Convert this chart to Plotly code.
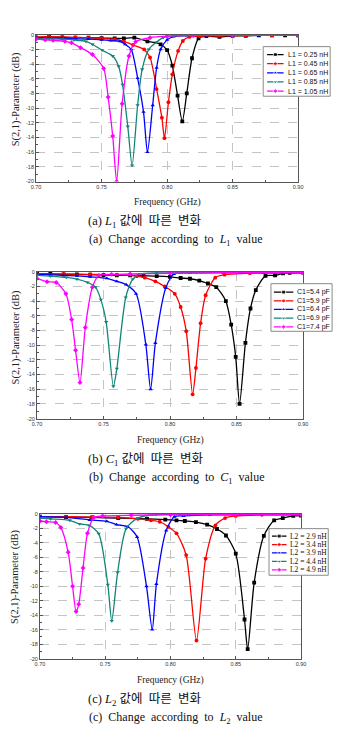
import plotly.graph_objects as go

W, H = 341, 732

def px(x):
    return x / W

def py(y):
    return 1 - y / H

# ---------------- DATA ----------------
# Panel (a): L1 sweep
a_names = ["L1 = 0.25 nH", "L1 = 0.45 nH", "L1 = 0.65 nH", "L1 = 0.85 nH", "L1 = 1.05 nH"]
a_f1 = [0.700, 0.710, 0.720, 0.730, 0.740, 0.750, 0.760, 0.767, 0.775, 0.785, 0.795, 0.800, 0.804, 0.808, 0.8116, 0.815, 0.819, 0.824, 0.830, 0.840, 0.850, 0.860, 0.870, 0.880, 0.890, 0.900]
a_s1 = [-0.4, -0.3, -0.35, -0.4, -0.4, -0.45, -0.5, -0.5, -0.4, -0.9, -1.3, -2.1, -4.2, -8.3, -11.8, -8.0, -3.2, -0.5, -0.2, -0.3, -0.15, -0.15, -0.1, -0.1, -0.1, -0.1]
a_f2 = [0.700, 0.710, 0.720, 0.730, 0.740, 0.750, 0.760, 0.767, 0.774, 0.7825, 0.787, 0.792, 0.796, 0.798, 0.801, 0.804, 0.8084, 0.812, 0.817, 0.825, 0.840, 0.860, 0.880, 0.900]
a_s2 = [-0.3, -0.25, -0.3, -0.35, -0.4, -0.5, -0.6, -0.9, -1.4, -2.0, -3.1, -7.4, -11.3, -14.1, -9.2, -5.4, -2.2, -0.85, -0.3, -0.2, -0.15, -0.1, -0.1, -0.1]
a_f3 = [0.700, 0.710, 0.720, 0.730, 0.740, 0.750, 0.757, 0.764, 0.768, 0.7726, 0.7775, 0.782, 0.785, 0.789, 0.792, 0.795, 0.800, 0.805, 0.815, 0.830, 0.850, 0.870, 0.900]
a_s3 = [-0.4, -0.45, -0.5, -0.55, -0.6, -0.7, -0.8, -0.9, -1.3, -2.0, -5.9, -10.5, -16.0, -9.6, -4.5, -2.0, -0.7, -0.25, -0.1, -0.1, -0.1, -0.1, -0.1]
a_f4 = [0.700, 0.710, 0.720, 0.729, 0.738, 0.743, 0.7504, 0.7585, 0.763, 0.766, 0.770, 0.7733, 0.7775, 0.781, 0.786, 0.792, 0.797, 0.805, 0.820, 0.850, 0.900]
a_s4 = [-0.5, -0.55, -0.6, -0.7, -0.9, -1.3, -2.1, -2.9, -4.3, -6.8, -12.5, -17.8, -9.6, -4.7, -2.0, -1.0, -0.4, -0.15, -0.1, -0.1, -0.1]
a_f5 = [0.700, 0.707, 0.713, 0.722, 0.727, 0.734, 0.743, 0.7516, 0.755, 0.7585, 0.7615, 0.7657, 0.7709, 0.776, 0.787, 0.800, 0.820, 0.850, 0.900]
a_s5 = [-0.6, -0.7, -0.77, -0.9, -1.1, -1.76, -2.7, -4.6, -8.5, -13.8, -20.0, -9.4, -2.9, -0.95, -0.4, -0.2, -0.1, -0.1, -0.1]

# Panel (b): C1 sweep
b_names = ["C1=5.4 pF", "C1=5.9 pF", "C1=6.4 pF", "C1=6.9 pF", "C1=7.4 pF"]
b_f1 = [0.700, 0.710, 0.720, 0.730, 0.740, 0.750, 0.760, 0.770, 0.780, 0.790, 0.800, 0.808, 0.815, 0.822, 0.8285, 0.8348, 0.842, 0.846, 0.8494, 0.8523, 0.8567, 0.8605, 0.8645, 0.8718, 0.879, 0.885, 0.890, 0.900]
b_s1 = [-0.3, -0.3, -0.35, -0.35, -0.4, -0.45, -0.5, -0.5, -0.55, -0.6, -0.7, -0.85, -0.95, -1.2, -1.6, -2.1, -4.0, -7.2, -11.6, -18.0, -9.7, -5.0, -2.5, -0.55, -0.5, -0.2, -0.15, -0.1]
b_f2 = [0.700, 0.720, 0.740, 0.760, 0.775, 0.781, 0.789, 0.796, 0.8036, 0.808, 0.8122, 0.817, 0.8195, 0.823, 0.8268, 0.834, 0.841, 0.860, 0.900]
b_s2 = [-0.3, -0.3, -0.35, -0.4, -0.6, -0.8, -1.3, -2.0, -3.0, -4.8, -8.1, -16.7, -13.1, -7.0, -3.2, -0.8, -0.4, -0.2, -0.1]
b_f3 = [0.700, 0.710, 0.720, 0.730, 0.740, 0.7525, 0.760, 0.767, 0.7745, 0.7818, 0.7854, 0.789, 0.7968, 0.803, 0.815, 0.840, 0.870, 0.900]
b_s3 = [-0.4, -0.4, -0.5, -0.55, -0.7, -0.9, -1.3, -1.75, -3.0, -9.9, -16.0, -9.7, -2.2, -0.3, -0.15, -0.1, -0.1, -0.1]
b_f4 = [0.700, 0.710, 0.722, 0.730, 0.738, 0.744, 0.748, 0.752, 0.7574, 0.760, 0.7667, 0.772, 0.777, 0.790, 0.820, 0.860, 0.900]
b_s4 = [-0.5, -0.6, -0.76, -1.0, -1.45, -2.1, -3.8, -6.85, -15.6, -13.2, -3.5, -1.0, -0.3, -0.15, -0.1, -0.1, -0.1]
b_f5 = [0.700, 0.7075, 0.7144, 0.7217, 0.726, 0.729, 0.7323, 0.7363, 0.7416, 0.7465, 0.756, 0.770, 0.800, 0.850, 0.900]
b_s5 = [-0.9, -1.35, -1.45, -3.0, -6.5, -10.7, -15.1, -7.6, -2.1, -0.5, -0.35, -0.3, -0.2, -0.1, -0.1]

# Panel (c): L2 sweep
c_names = ["L2 = 2.9 nH", "L2 = 3.4 nH", "L2 = 3.9 nH", "L2 = 4.4 nH", "L2 = 4.9 nH"]
c_f1 = [0.700, 0.720, 0.740, 0.760, 0.782, 0.796, 0.8046, 0.811, 0.8195, 0.8281, 0.8356, 0.8425, 0.850, 0.8567, 0.8591, 0.8641, 0.8715, 0.8794, 0.886, 0.894, 0.900]
c_s1 = [-0.4, -0.45, -0.5, -0.6, -0.7, -0.8, -0.9, -1.0, -1.15, -1.5, -2.1, -3.0, -5.5, -14.6, -18.7, -9.5, -3.05, -0.9, -0.6, -0.3, -0.25]
c_f2 = [0.700, 0.720, 0.740, 0.760, 0.775, 0.785, 0.7918, 0.7984, 0.8046, 0.812, 0.8199, 0.8269, 0.8344, 0.8418, 0.850, 0.870, 0.900]
c_s2 = [-0.4, -0.4, -0.45, -0.5, -0.7, -0.9, -1.1, -1.8, -2.7, -5.7, -17.5, -6.2, -1.6, -0.6, -0.3, -0.15, -0.1]
c_f3 = [0.700, 0.720, 0.738, 0.7513, 0.7587, 0.7674, 0.7744, 0.7816, 0.786, 0.7892, 0.7967, 0.803, 0.810, 0.830, 0.860, 0.900]
c_s3 = [-0.4, -0.5, -0.85, -1.05, -1.5, -1.8, -3.2, -10.0, -16.0, -9.7, -2.3, -0.4, -0.3, -0.15, -0.1, -0.1]
c_f4 = [0.700, 0.708, 0.7228, 0.7303, 0.7377, 0.745, 0.752, 0.755, 0.7595, 0.766, 0.7749, 0.789, 0.810, 0.850, 0.900]
c_s4 = [-0.6, -0.7, -0.9, -1.4, -1.6, -2.75, -9.8, -14.8, -8.1, -2.05, -0.6, -0.1, -0.1, -0.1, -0.1]
c_f5 = [0.700, 0.705, 0.712, 0.716, 0.7216, 0.725, 0.7277, 0.7297, 0.733, 0.7364, 0.7414, 0.748, 0.770, 0.800, 0.850, 0.900]
c_s5 = [-1.0, -1.1, -1.2, -1.9, -5.3, -10.0, -13.5, -12.5, -7.5, -2.7, -0.5, -0.3, -0.2, -0.15, -0.1, -0.1]

x_ticks = [0.70, 0.75, 0.80, 0.85, 0.90]
x_ticktext = ["0.70", "0.75", "0.80", "0.85", "0.90"]
y_ticks = [0, -2, -4, -6, -8, -10, -12, -14, -16, -18, -20]
y_ticktext = ["0", "-2", "-4", "-6", "-8", "-10", "-12", "-14", "-16", "-18", "-20"]

x_title = "Frequency (GHz)"
y_title = "S(2,1)-Parameter (dB)"
captions_kr = [
    "(a) <i>L</i><sub>1</sub> 값에\u00a0\u00a0따른\u00a0\u00a0변화",
    "(b) <i>C</i><sub>1</sub> 값에\u00a0\u00a0따른\u00a0\u00a0변화",
    "(c) <i>L</i><sub>2</sub> 값에\u00a0\u00a0따른\u00a0\u00a0변화",
]
captions_en = [
    "(a)\u00a0\u00a0Change\u00a0\u00a0according\u00a0\u00a0to\u00a0\u00a0<i>L</i><sub>1</sub>\u00a0\u00a0value",
    "(b)\u00a0\u00a0Change\u00a0\u00a0according\u00a0\u00a0to\u00a0\u00a0<i>C</i><sub>1</sub>\u00a0\u00a0value",
    "(c)\u00a0\u00a0Change\u00a0\u00a0according\u00a0\u00a0to\u00a0\u00a0<i>L</i><sub>2</sub>\u00a0\u00a0value",
]

# ---------------- STYLE / LAYOUT ----------------
colors = ["#000000", "#ff0000", "#0000ff", "#11857a", "#ff00ff"]
symbols = ["square", "circle", "triangle-up", "triangle-down", "diamond"]

panel_data = [
    (a_names, [(a_f1, a_s1), (a_f2, a_s2), (a_f3, a_s3), (a_f4, a_s4), (a_f5, a_s5)]),
    (b_names, [(b_f1, b_s1), (b_f2, b_s2), (b_f3, b_s3), (b_f4, b_s4), (b_f5, b_s5)]),
    (c_names, [(c_f1, c_s1), (c_f2, c_s2), (c_f3, c_s3), (c_f4, c_s4), (c_f5, c_s5)]),
]

# plot boxes in pixels: x0, x1, ytop, ybottom
boxes = [(32, 302, 32, 180), (33, 307, 271, 419), (36, 305, 515, 661)]
# legend boxes: x0, x1, ytop, ybottom, rows y, line x0, line x1, text x, font
leg_boxes = [
    (266, 335, 44, 94, [52, 61.2, 70.4, 79.6, 88.8], 270, 287, 289, "Liberation Sans", 7),
    (274, 337, 283, 331, [291.5, 300.3, 309, 317.8, 326.5], 277, 297, 298.5, "Liberation Sans", 7),
    (272, 333, 530, 577, [537.5, 546, 554.5, 563, 571.5], 275, 290, 292, "Liberation Serif", 7.5),
]
xtitle_y = [201, 441, 683]
ytitle_pos = [(11.5, 97), (11.5, 337), (11, 579)]
cap_kr_y = [221, 461, 702.5]
cap_en_y = [239, 479, 721]

fig = go.Figure()
layout = dict(
    width=W, height=H, autosize=False,
    margin=dict(l=0, r=0, t=0, b=0),
    paper_bgcolor="white", plot_bgcolor="white",
    showlegend=False,
    font=dict(family="Liberation Sans", color="#222"),
)
annotations = []
shapes = []

axis_color = "#555555"
for i, ((names, series), (bx0, bx1, by0, by1)) in enumerate(zip(panel_data, boxes)):
    n = i + 1
    xa = "x" if n == 1 else f"x{n}"
    ya = "y" if n == 1 else f"y{n}"
    for j, (f, s) in enumerate(series):
        fig.add_trace(go.Scatter(
            x=f, y=s, mode="lines+markers", name=names[j],
            line=dict(color=colors[j], width=1.3, shape="spline", smoothing=0.7),
            marker=dict(symbol=symbols[j], size=3.8, color=colors[j]),
            xaxis=xa, yaxis=ya, showlegend=False, cliponaxis=True,
        ))
    common = dict(
        showline=True, mirror=True, linecolor=axis_color, linewidth=1,
        ticks="inside", ticklen=3, tickcolor=axis_color, tickwidth=0.8,
        showgrid=True, gridcolor="#c4c4c4", gridwidth=0.8, griddash="dash",
        zeroline=False, fixedrange=True,
        tickfont=dict(family="Liberation Sans", size=5.5, color="#333"),
    )
    layout[f"xaxis{'' if n == 1 else n}"] = dict(
        common, domain=[px(bx0), px(bx1)], range=[0.70, 0.90],
        tickvals=x_ticks, ticktext=x_ticktext, anchor=ya,
        minor=dict(tickvals=[0.725, 0.775, 0.825, 0.875], ticks="inside", ticklen=2,
                   tickcolor=axis_color, showgrid=False),
    )
    layout[f"yaxis{'' if n == 1 else n}"] = dict(
        common, domain=[py(by1), py(by0)], range=[-20, 0],
        tickvals=y_ticks, ticktext=y_ticktext, anchor=xa,
        minor=dict(dtick=1, ticks="inside", ticklen=2, tickcolor=axis_color, showgrid=False),
    )
    # axis titles
    annotations.append(dict(
        text=x_title, xref="paper", yref="paper", x=px((bx0 + bx1) / 2), y=py(xtitle_y[i]),
        xanchor="center", yanchor="middle", showarrow=False,
        font=dict(family="Liberation Serif", size=9.5, color="#222"),
    ))
    tx, ty = ytitle_pos[i]
    annotations.append(dict(
        text=y_title, xref="paper", yref="paper", x=px(tx), y=py(ty), textangle=-90,
        xanchor="center", yanchor="middle", showarrow=False,
        font=dict(family="Liberation Serif", size=10.5, color="#222"),
    ))
    # captions
    annotations.append(dict(
        text=captions_kr[i], xref="paper", yref="paper", x=px(83), y=py(cap_kr_y[i]),
        xanchor="left", yanchor="middle", showarrow=False,
        font=dict(family="Liberation Serif, Noto Sans CJK KR", size=12.5, color="#111"),
    ))
    annotations.append(dict(
        text=captions_en[i], xref="paper", yref="paper", x=px(84), y=py(cap_en_y[i]),
        xanchor="left", yanchor="middle", showarrow=False,
        font=dict(family="Liberation Serif", size=12, color="#111"),
    ))

    # legend as an overlapping mini subplot
    lx0, lx1, ly0, ly1, rows, sx0, sx1, tx0, lfont, lsize = leg_boxes[i]
    m = n + 3
    lxa, lya = f"x{m}", f"y{m}"
    layout[f"xaxis{m}"] = dict(domain=[px(lx0), px(lx1)], range=[lx0, lx1], visible=False,
                               fixedrange=True, anchor=lya)
    layout[f"yaxis{m}"] = dict(domain=[py(ly1), py(ly0)], range=[ly1, ly0], visible=False,
                               fixedrange=True, anchor=lxa)
    for j, ry in enumerate(rows):
        fig.add_trace(go.Scatter(
            x=[sx0, (sx0 + sx1) / 2, sx1], y=[ry, ry, ry], mode="lines+markers",
            line=dict(color=colors[j], width=1.2),
            marker=dict(symbol=symbols[j], size=[0, 4, 0], color=colors[j]),
            xaxis=lxa, yaxis=lya, showlegend=False, hoverinfo="skip",
        ))
        annotations.append(dict(
            text=names[j], xref=lxa, yref=lya, x=tx0, y=ry, xanchor="left", yanchor="middle",
            showarrow=False, font=dict(family=lfont, size=lsize, color="#111"),
        ))
    shapes.append(dict(type="rect", xref="paper", yref="paper",
                       x0=px(lx0), x1=px(lx1), y0=py(ly1), y1=py(ly0),
                       line=dict(color="#8a8a8a", width=1), layer="above"))

layout["annotations"] = annotations
layout["shapes"] = shapes
fig.update_layout(**layout)
fig.write_html("out.html")
